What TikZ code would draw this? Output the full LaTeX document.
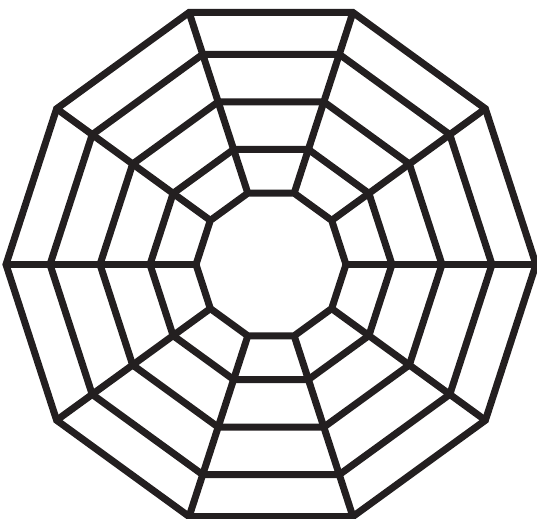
\documentclass[tikz,border=0pt]{standalone}
\usepackage{xcolor}
\usepackage{tikz}
\definecolor{webdark}{RGB}{35,31,32}
\tikzset{
  ring/.style={draw=webdark, line width=0.14cm, line join=miter},
  spoke/.style={draw=webdark, line width=0.14cm}
}
\begin{document}
\begin{tikzpicture}[x=0.02cm, y=0.02cm]
  \useasboundingbox (0,0) rectangle (537,519);
  \begin{scope}[shift={(271,254.5)}]
    % Concentric decagons
    \foreach \r in {75,121,171,221,265} {
      \draw[ring] (0:\r) \foreach \a in {36,72,...,324} { -- (\a:\r) } -- cycle;
    }
    % Spokes
    \foreach \a in {0,36,...,324} {
      \draw[spoke] (\a:75) -- (\a:265);
    }
  \end{scope}
\end{tikzpicture}
\end{document}
